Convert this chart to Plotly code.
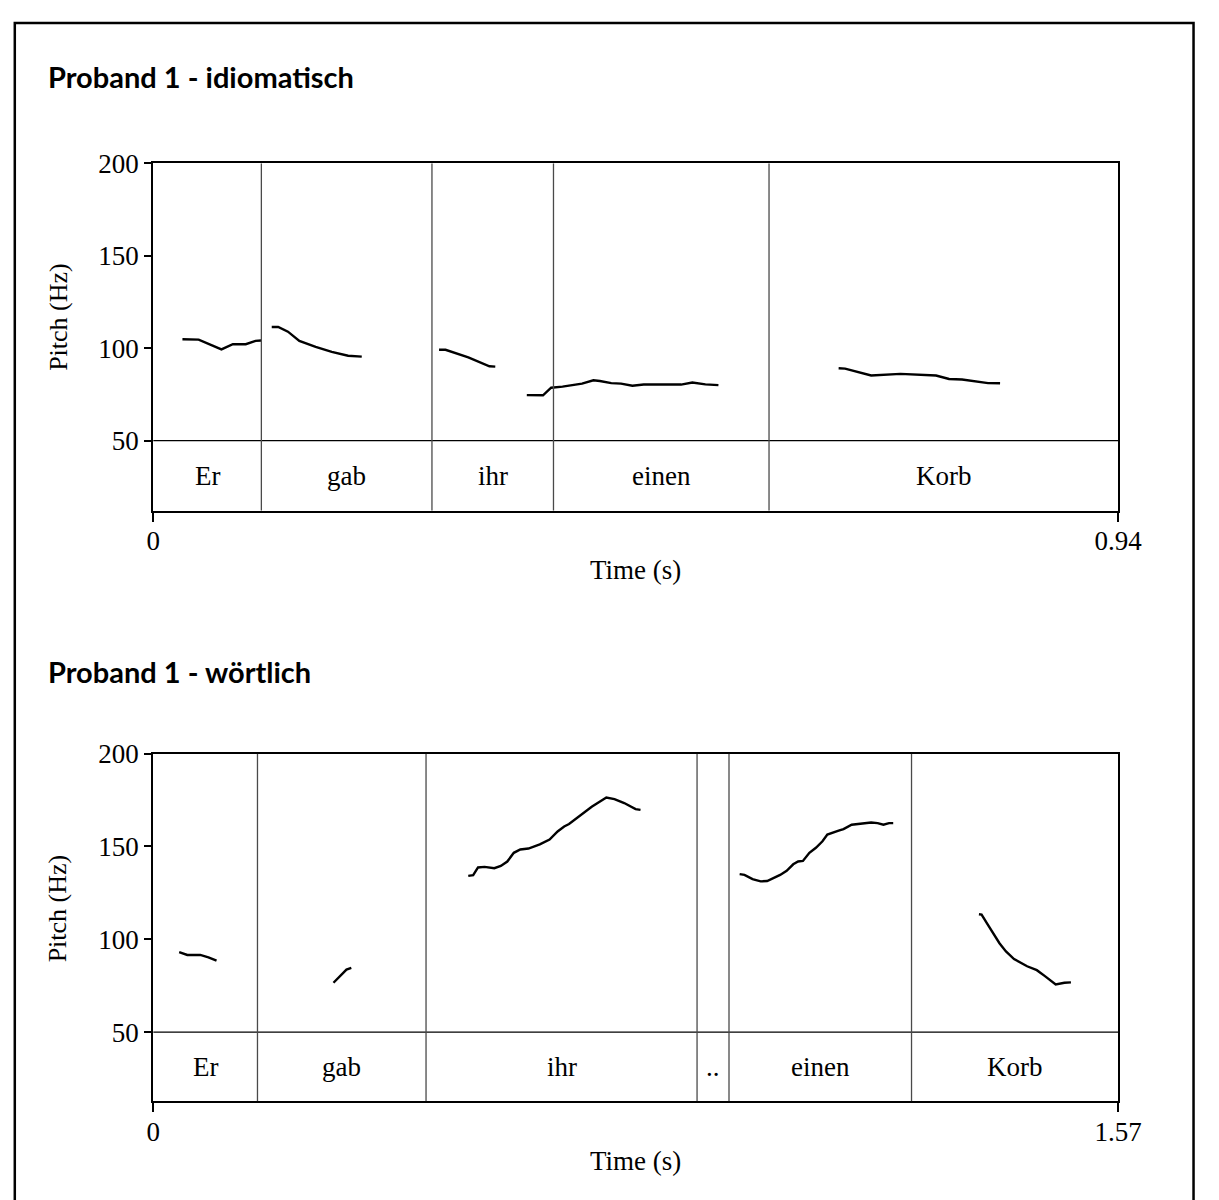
import plotly.graph_objects as go

W, H = 1219, 1200

# ---- Proband 1 - idiomatisch ----
idio_words = ["Er", "gab", "ihr", "einen", "Korb"]
idio_bounds = [0.0, 0.1054, 0.2716, 0.390, 0.600, 0.94]

idio_er_t = [0.0285, 0.0443, 0.0665, 0.0776, 0.0902, 0.0997, 0.1051]
idio_er_hz = [104.8, 104.6, 99.3, 102.1, 102.1, 103.9, 104.1]

idio_gab_t = [0.1155, 0.1218, 0.1313, 0.1424, 0.1583, 0.1740, 0.1899, 0.2032]
idio_gab_hz = [111.4, 111.4, 108.9, 103.9, 100.7, 98.0, 95.9, 95.4]

idio_ihr_t = [0.2785, 0.2848, 0.3070, 0.3276, 0.3333]
idio_ihr_hz = [99.1, 99.1, 95.0, 90.2, 90.0]

idio_einen_t = [0.3640, 0.3798, 0.3877, 0.3988, 0.4178, 0.4289, 0.4352, 0.4463,
                0.4558, 0.4669, 0.4779, 0.5143, 0.5253, 0.5380, 0.5507]
idio_einen_hz = [74.6, 74.5, 78.6, 79.2, 80.8, 82.6, 82.2, 81.1,
                 80.8, 79.7, 80.3, 80.3, 81.4, 80.4, 80.0]

idio_korb_t = [0.6678, 0.6741, 0.6995, 0.7280, 0.7627, 0.7754, 0.7881, 0.8134, 0.8251]
idio_korb_hz = [89.1, 88.9, 85.2, 86.1, 85.2, 83.3, 83.0, 81.1, 81.0]

# ---- Proband 1 - wörtlich ----
wort_words = ["Er", "gab", "ihr", "..", "einen", "Korb"]
wort_bounds = [0.0, 0.1697, 0.444, 0.885, 0.937, 1.234, 1.57]

wort_er_t = [0.0423, 0.0555, 0.0766, 0.0899, 0.1031]
wort_er_hz = [93.1, 91.6, 91.6, 90.3, 88.5]

wort_gab_t = [0.2934, 0.3040, 0.3145, 0.3224]
wort_gab_hz = [76.6, 80.2, 83.7, 84.6]

wort_ihr_t = [0.5127, 0.5207, 0.5286, 0.5392, 0.5551, 0.5657, 0.5762, 0.5868,
              0.5974, 0.6106, 0.6291, 0.6450, 0.6581, 0.6688, 0.6767, 0.6926,
              0.7136, 0.7374, 0.7506, 0.7665, 0.7850, 0.7930]
wort_ihr_hz = [134.2, 134.6, 138.7, 139.0, 138.3, 139.5, 141.9, 146.6,
               148.4, 148.9, 151.1, 153.7, 158.1, 160.8, 162.1, 166.1,
               171.4, 176.4, 175.5, 173.4, 170.1, 169.7]

wort_einen_t = [0.9543, 0.9622, 0.9753, 0.9885, 0.9991, 1.0123, 1.0202, 1.0308,
                1.0415, 1.0494, 1.0573, 1.0678, 1.0784, 1.0891, 1.0970, 1.1154,
                1.1233, 1.1366, 1.1471, 1.1683, 1.1788, 1.1883, 1.1974, 1.2042]
wort_einen_hz = [135.1, 134.7, 132.4, 131.2, 131.4, 133.4, 134.7, 136.9,
                 140.4, 141.9, 142.2, 146.6, 149.3, 152.8, 156.4, 158.5,
                 159.4, 161.7, 162.2, 162.9, 162.6, 161.7, 162.6, 162.6]

wort_korb_t = [1.3437, 1.3480, 1.3586, 1.3771, 1.3877, 1.4008, 1.4221, 1.4379,
               1.4511, 1.4686, 1.4828, 1.4934]
wort_korb_hz = [113.5, 113.3, 107.6, 97.9, 93.5, 89.4, 85.5, 83.4,
                80.2, 75.7, 76.6, 76.8]

# pitch axis ticks and the floor of the word tier
pitch_ticks = [50, 100, 150, 200]
tier_top = 50

SERIF = "Liberation Serif"
SANS_BOLD = "Lato"
INK = "black"


def px_x(p):
    return p / W


def px_y(p):
    return 1 - p / H


fig = go.Figure()

panels = [
    dict(
        title="Proband 1 - idiomatisch",
        words=idio_words,
        bounds=idio_bounds,
        segs=[(idio_er_t, idio_er_hz), (idio_gab_t, idio_gab_hz),
              (idio_ihr_t, idio_ihr_hz), (idio_einen_t, idio_einen_hz),
              (idio_korb_t, idio_korb_hz)],
        end_label="0.94",
        ymin=12.1,
        top_px=150, bot_px=502, title_px=62,
        xlab_px=562, ylab_px=306,
        xa="x", ya="y",
    ),
    dict(
        title="Proband 1 - wörtlich",
        words=wort_words,
        bounds=wort_bounds,
        segs=[(wort_er_t, wort_er_hz), (wort_gab_t, wort_gab_hz),
              (wort_ihr_t, wort_ihr_hz), (wort_einen_t, wort_einen_hz),
              (wort_korb_t, wort_korb_hz)],
        end_label="1.57",
        ymin=12.8,
        top_px=748, bot_px=1100, title_px=665,
        xlab_px=1161, ylab_px=905,
        xa="x2", ya="y2",
    ),
]

annotations = []
shapes = []
left_px, right_px = 150, 1140

for i, p in enumerate(panels):
    xa, ya = p["xa"], p["ya"]
    t_end = p["bounds"][-1]

    # pitch contours, one trace per voiced stretch
    for t, hz in p["segs"]:
        fig.add_trace(go.Scatter(
            x=t, y=hz, mode="lines", xaxis=xa, yaxis=ya,
            line=dict(color=INK, width=2.4, shape="linear"),
            showlegend=False, hoverinfo="skip",
        ))

    # horizontal line separating the pitch area from the word tier
    shapes.append(dict(type="line", xref=xa, yref=ya,
                       x0=0, x1=t_end, y0=tier_top, y1=tier_top,
                       line=dict(color=INK, width=1.2), layer="above"))

    # word boundaries
    for b in p["bounds"][1:-1]:
        shapes.append(dict(type="line", xref=xa, yref=ya,
                           x0=b, x1=b, y0=p["ymin"], y1=200,
                           line=dict(color="#4a4a4a", width=1.3), layer="above"))

    # word labels centred in their intervals
    for w, a, b in zip(p["words"], p["bounds"][:-1], p["bounds"][1:]):
        annotations.append(dict(
            x=(a + b) / 2, y=(tier_top + p["ymin"]) / 2,
            xref=xa, yref=ya, text=w, showarrow=False,
            font=dict(family=SERIF, size=27, color=INK),
            xanchor="center", yanchor="middle",
        ))

    # panel heading
    annotations.append(dict(
        x=px_x(40), y=px_y(p["title_px"]), xref="paper", yref="paper",
        text="<b>" + p["title"] + "</b>", showarrow=False,
        font=dict(family=SANS_BOLD, size=29, color=INK),
        xanchor="left", yanchor="middle",
    ))
    # axis titles
    annotations.append(dict(
        x=px_x((left_px + right_px) / 2), y=px_y(p["xlab_px"]),
        xref="paper", yref="paper", text="Time (s)", showarrow=False,
        font=dict(family=SERIF, size=27, color=INK),
        xanchor="center", yanchor="middle",
    ))
    annotations.append(dict(
        x=px_x(52), y=px_y(p["ylab_px"]),
        xref="paper", yref="paper", text="Pitch (Hz)", showarrow=False,
        textangle=-90,
        font=dict(family=SERIF, size=26, color=INK),
        xanchor="center", yanchor="middle",
    ))

    axis_common = dict(
        showgrid=False, zeroline=False, showline=True, linecolor=INK,
        linewidth=2.2, mirror=True, ticks="outside", tickcolor=INK,
        ticklen=7, tickwidth=1.6,
        tickfont=dict(family=SERIF, size=27, color=INK),
    )
    suffix = "" if i == 0 else str(i + 1)
    fig.layout["xaxis" + suffix] = dict(
        axis_common,
        domain=[px_x(left_px), px_x(right_px)],
        range=[0, t_end],
        tickvals=[0, t_end], ticktext=["0", p["end_label"]],
        anchor=ya, ticklen=9, ticklabelstandoff=-4,
    )
    fig.layout["yaxis" + suffix] = dict(
        axis_common,
        domain=[px_y(p["bot_px"]), px_y(p["top_px"])],
        range=[p["ymin"], 200],
        tickvals=pitch_ticks, ticktext=[str(v) for v in pitch_ticks],
        anchor=xa,
    )

# outer frame
shapes.append(dict(type="rect", xref="paper", yref="paper",
                   x0=px_x(8), x1=px_x(1217.5), y0=px_y(1215), y1=px_y(8),
                   line=dict(color=INK, width=2.5), layer="above"))

fig.update_layout(
    width=W, height=H, autosize=False,
    margin=dict(l=0, r=0, t=0, b=0),
    paper_bgcolor="white", plot_bgcolor="white",
    annotations=annotations, shapes=shapes,
    showlegend=False,
)

fig.write_html("out.html", config={"displayModeBar": False})
